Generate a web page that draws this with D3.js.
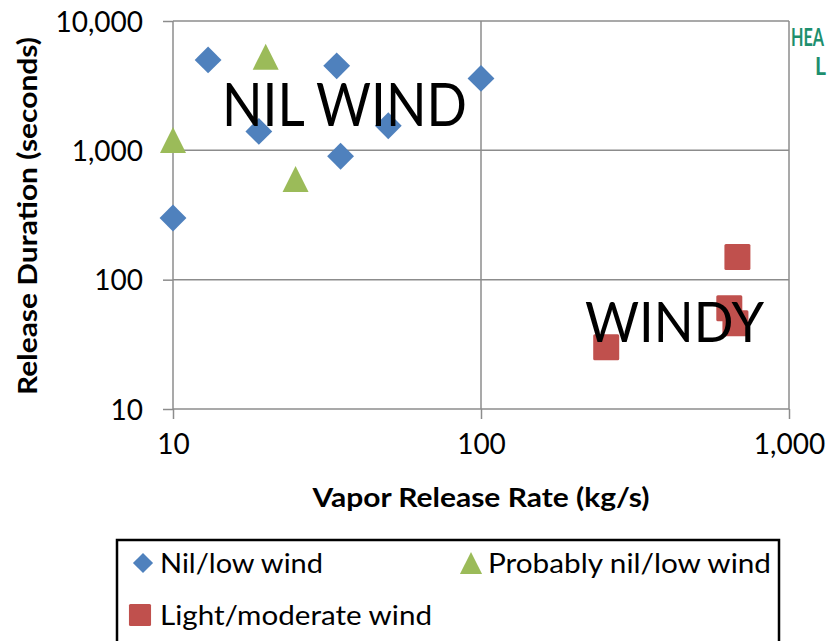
<!DOCTYPE html>
<html>
<head>
<meta charset="utf-8">
<script src="https://cdn.jsdelivr.net/npm/d3@7"></script>
<style>
  html, body { margin: 0; padding: 0; background: #fff; overflow: hidden; }
  svg { display: block; font-family: Lato, "Open Sans", sans-serif; }
</style>
</head>
<body>
<svg id="chart" width="829" height="641"></svg>
<script>
// ---- data ----
const nilX = [10, 13, 19, 34, 35, 50, 100];
const nilY = [300, 5000, 1400, 4500, 900, 1550, 3600];
const probX = [10, 20, 25];
const probY = [1200, 5300, 600];
const lightX = [255, 640, 670, 680];
const lightY = [30, 60, 46, 150];
const xTicks = [10, 100, 1000];
const yTicks = [10, 100, 1000, 10000];
const seriesNames = ["Nil/low wind", "Probably nil/low wind", "Light/moderate wind"];
const colors = ["#4F81BD", "#9BBB59", "#C0504D"];

const svg = d3.select("#chart");
const x = d3.scaleLog().domain([10, 1000]).range([173, 789]);
const y = d3.scaleLog().domain([10, 10000]).range([409, 21]);
const fmt = d3.format(",");
const grid = "#8c8c8c";

// gridlines
svg.append("g").selectAll("line").data(yTicks.filter(d => d > 10)).join("line")
  .attr("x1", x(10)).attr("x2", x(1000)).attr("y1", d => y(d)).attr("y2", d => y(d))
  .attr("stroke", grid).attr("stroke-width", 1.5);
svg.append("g").selectAll("line").data(xTicks.filter(d => d > 10)).join("line")
  .attr("y1", y(10)).attr("y2", y(10000)).attr("x1", d => x(d)).attr("x2", d => x(d))
  .attr("stroke", grid).attr("stroke-width", 1.5);

// axes
const yAxis = d3.axisLeft(y).tickValues(yTicks).tickFormat(fmt).tickSize(10).tickPadding(20);
const gy = svg.append("g").attr("transform", `translate(${x(10)},0)`).call(yAxis);
const xAxis = d3.axisBottom(x).tickValues(xTicks).tickFormat(fmt).tickSize(10).tickPadding(14);
const gx = svg.append("g").attr("transform", `translate(0,${y(10)})`).call(xAxis);
[gx, gy].forEach(g => {
  g.select(".domain").attr("stroke", grid).attr("stroke-width", 1.5);
  g.selectAll(".tick line").attr("stroke", grid).attr("stroke-width", 1.5);
  g.selectAll(".tick text").attr("font-family", "Lato, sans-serif").attr("font-size", 28).attr("fill", "#000");
});
gx.select(".domain").attr("d", `M${x(10)},0H${x(1000)}`);
gy.select(".domain").attr("d", `M0,${y(10)}V${y(10000)}`);
gx.selectAll(".tick text").attr("dy", "0.75em");
gy.selectAll(".tick text").attr("dy", "0.36em");

// axis titles
svg.append("text").attr("x", 481).attr("y", 507).attr("text-anchor", "middle")
  .attr("font-weight", "bold").attr("font-size", 26).attr("textLength", 337).attr("lengthAdjust", "spacingAndGlyphs")
  .text("Vapor Release Rate (kg/s)");
svg.append("text").attr("transform", "translate(37,216) rotate(-90)").attr("text-anchor", "middle")
  .attr("font-weight", "bold").attr("font-size", 26).attr("textLength", 358).attr("lengthAdjust", "spacingAndGlyphs")
  .text("Release Duration (seconds)");

// marks
function marker(g, i, cx, cy, scale) {
  const s = scale || 1;
  if (i === 0) {
    g.append("path").attr("d", d3.symbol().type(d3.symbolSquare).size(360 * s * s)())
      .attr("transform", `translate(${cx},${cy}) rotate(45)`).attr("fill", colors[0]);
  } else if (i === 1) {
    const h = 26 * s, w = 26 * s;
    g.append("path").attr("d", `M0,${-h/2}L${w/2},${h/2}L${-w/2},${h/2}Z`)
      .attr("transform", `translate(${cx},${cy})`).attr("fill", colors[1]);
  } else {
    const a = 26 * s;
    g.append("rect").attr("x", cx - a/2).attr("y", cy - a/2).attr("width", a).attr("height", a)
      .attr("rx", 1.5).attr("fill", colors[2]);
  }
}
const pts = svg.append("g");
nilX.forEach((v, k) => marker(pts, 0, x(v), y(nilY[k])));
probX.forEach((v, k) => marker(pts, 1, x(v), y(probY[k])));
lightX.forEach((v, k) => marker(pts, 2, x(v), y(lightY[k])));

// annotations
svg.append("text").attr("x", 222).attr("y", 126).attr("font-size", 60)
  .attr("textLength", 245).attr("lengthAdjust", "spacingAndGlyphs").text("NIL WIND");
svg.append("text").attr("x", 585).attr("y", 342).attr("font-size", 57)
  .attr("textLength", 179).attr("lengthAdjust", "spacingAndGlyphs").text("WINDY");

// partly visible green header at top right
svg.append("text").attr("x", 791).attr("y", 46).attr("font-size", 25).attr("font-weight", "bold")
  .attr("fill", "#1d8f6e").attr("textLength", 33).attr("lengthAdjust", "spacingAndGlyphs").text("HEA");
svg.append("text").attr("x", 815).attr("y", 75).attr("font-size", 25).attr("font-weight", "bold")
  .attr("fill", "#1d8f6e").attr("textLength", 11).attr("lengthAdjust", "spacingAndGlyphs").text("L");

// legend
const lg = svg.append("g");
lg.append("rect").attr("x", 117).attr("y", 540).attr("width", 662).attr("height", 120)
  .attr("fill", "#fff").attr("stroke", "#000").attr("stroke-width", 2.5);
const legItems = [
  {i: 0, mx: 143, my: 563, tx: 160, ty: 573, w: 163},
  {i: 1, mx: 471, my: 563, tx: 488, ty: 573, w: 283},
  {i: 2, mx: 140, my: 615, tx: 160, ty: 625, w: 272}
];
legItems.forEach(d => {
  marker(lg, d.i, d.mx, d.my, d.i === 0 ? 0.75 : 0.85);
  lg.append("text").attr("x", d.tx).attr("y", d.ty).attr("font-size", 27)
    .attr("textLength", d.w).attr("lengthAdjust", "spacingAndGlyphs").text(seriesNames[d.i]);
});
</script>
</body>
</html>
